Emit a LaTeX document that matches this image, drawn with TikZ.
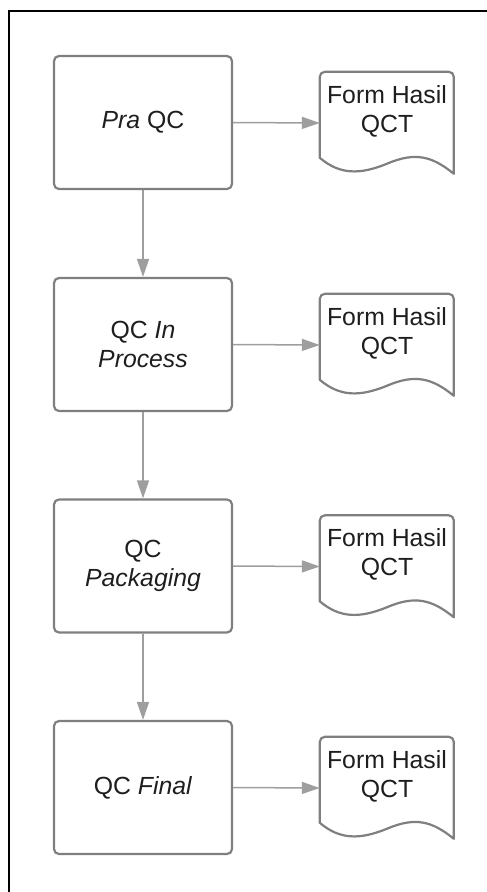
\documentclass[tikz,border=0pt]{standalone}
\usepackage{fontspec}
\setmainfont{Liberation Sans}
\usetikzlibrary{arrows.meta,calc}

\definecolor{boxline}{HTML}{7F7F7F}
\definecolor{arrowline}{HTML}{9E9E9E}
\definecolor{ink}{HTML}{1E1E1E}

\tikzset{
  x=1pt, y=1pt,
  every node/.style={font=\fontsize{24.8}{29}\selectfont, text=ink},
  stagebox/.style={draw=boxline, line width=2.2pt, rounded corners=5pt,
    minimum width=178pt, minimum height=133pt, align=center, inner sep=0pt},
  docframe/.style={minimum width=134pt, minimum height=102pt, inner sep=0pt},
  doctext/.style={align=center, inner sep=0pt},
  docline/.style={draw=boxline, line width=2.2pt, line join=round},
  flow/.style={draw=arrowline, line width=1.5pt,
    -{Triangle[length=18pt, width=12pt]}},
  frameline/.style={draw=black, line width=1.6pt}
}

% document symbol with a wavy lower edge, anchored at the frame node
\newcommand{\docsymbol}[1]{%
  \draw[docline, shift={(#1.north west)}]
    (0,-86) -- (0,-5) arc[start angle=180, end angle=90, radius=5]
    -- (129,0) arc[start angle=90, end angle=0, radius=5]
    -- (134,-102)
    .. controls (112,-84) and (95,-80) .. (67,-92)
    .. controls (40,-103) and (20,-103) .. cycle;}

\begin{document}
\begin{tikzpicture}
\useasboundingbox (0,0) rectangle (487,-892);

% outer frame (only its left and top edges fall on the page)
\draw[frameline] (9,-892) -- (9,-11) -- (487,-11);

% process stages
\node[stagebox] (s1) at (143,-122.5) {\textit{Pra} QC};
\node[stagebox] (s2) at (143,-344.5) {QC \textit{In}\\\textit{Process}};
\node[stagebox] (s3) at (143,-566) {QC\\\textit{Packaging}};
\node[stagebox] (s4) at (143,-787.5) {QC \textit{Final}};

% result forms
\foreach \i/\yc in {1/-123, 2/-345, 3/-566.5, 4/-788} {
  \node[docframe] (d\i) at (387,\yc) {};
  \docsymbol{d\i}
  \node[doctext] (t\i) at ($(d\i.center)+(0,12)$) {Form Hasil\\QCT};
}

% flow between stages
\draw[flow] (s1.south) -- (s2.north);
\draw[flow] (s2.south) -- (s3.north);
\draw[flow] (s3.south) -- (s4.north);

% each stage produces a result form
\draw[flow] (s1.east) -- (d1.west);
\draw[flow] (s2.east) -- (d2.west);
\draw[flow] (s3.east) -- (d3.west);
\draw[flow] (s4.east) -- (d4.west);
\end{tikzpicture}
\end{document}
